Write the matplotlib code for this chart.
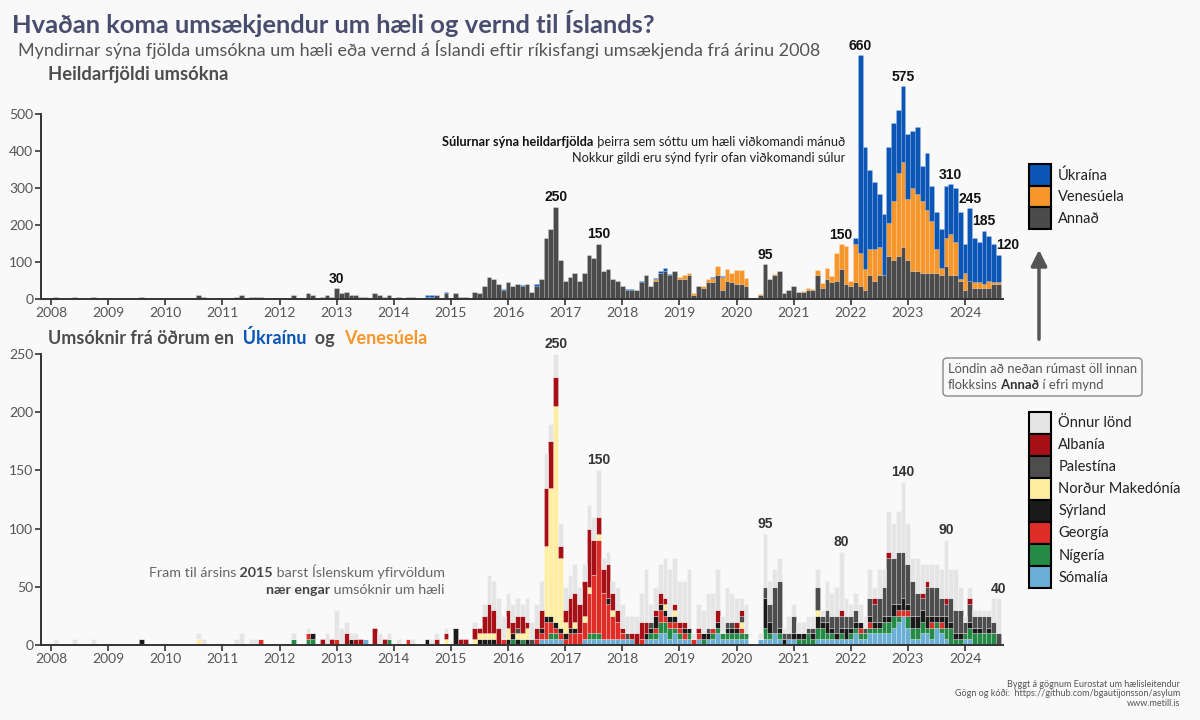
import numpy as np
import pandas as pd
import matplotlib
matplotlib.use('Agg')
import matplotlib.pyplot as plt
from matplotlib.patches import Patch, FancyBboxPatch
from matplotlib.transforms import IdentityTransform

plt.rcParams['font.family'] = ['Lato', 'DejaVu Sans']

# Mánaðarleg gögn jan 2008 - ágú 2024
months = pd.date_range('2008-01-01', '2024-08-01', freq='MS')
Z = [0] * 12

# Efri mynd
ukraina = (Z * 6
           + [0, 0, 0, 0, 0, 0, 0, 5, 5, 0, 0, 5]
           + [0, 2, 0, 0, 0, 0, 0, 0, 0, 0, 0, 3]
           + [0, 0, 0, 3, 0, 0, 5, 0, 0, 0, 0, 0]
           + Z
           + [0, 3, 2, 0, 5, 0, 0, 3, 5, 8, 3, 0]
           + [0, 0, 0, 0, 0, 0, 0, 3, 0, 2, 0, 0]
           + Z + Z
           + [0, 15, 535, 330, 215, 180, 145, 165, 205, 210, 170, 205]
           + [175, 155, 180, 95, 155, 95, 100, 105, 140, 135, 145, 180]
           + [80, 195, 120, 110, 145, 120, 105, 75])

venesuela = (Z * 10
             + [0, 0, 0, 0, 0, 0, 0, 3, 0, 0, 0, 0]
             + [5, 10, 5, 5, 0, 5, 10, 12, 25, 35, 32, 24]
             + [38, 38, 23, 0, 0, 3, 0, 0, 2, 0, 0, 0]
             + [0, 0, 2, 5, 3, 13, 12, 28, 17, 73, 69, 103]
             + [15, 105, 90, 55, 70, 85, 75, 0, 90, 160, 225, 230]
             + [165, 225, 210, 195, 170, 140, 65, 20, 75, 110, 90, 5]
             + [45, 0, 15, 15, 10, 20, 5, 5])

annad = ([0, 5, 0, 0, 0, 5, 0, 0, 0, 5, 0, 0]
         + [0, 0, 0, 0, 0, 0, 0, 5, 0, 0, 0, 0]
         + [0, 0, 0, 0, 0, 0, 0, 10, 5, 0, 0, 0]
         + [0, 0, 0, 5, 10, 0, 5, 5, 5, 0, 0, 0]
         + [0, 0, 0, 10, 0, 0, 15, 10, 0, 5, 10, 5]
         + [30, 15, 20, 10, 10, 5, 5, 0, 15, 10, 5, 10]
         + [0, 5, 0, 5, 5, 0, 0, 5, 5, 10, 0, 15]
         + [0, 15, 5, 5, 0, 20, 15, 35, 60, 55, 40, 25]
         + [45, 35, 40, 35, 40, 20, 35, 55, 165, 190, 250, 105]
         + [50, 60, 70, 50, 70, 120, 110, 150, 75, 80, 55, 50]
         + [35, 25, 25, 25, 45, 65, 35, 50, 70, 75, 65, 75]
         + [55, 55, 65, 10, 35, 30, 45, 45, 65, 25, 50, 45]
         + [40, 40, 35, 0, 0, 10, 95, 55, 65, 75, 15, 25]
         + [35, 20, 20, 25, 25, 65, 30, 55, 45, 50, 80, 40]
         + [35, 45, 35, 25, 65, 50, 65, 65, 115, 105, 115, 140]
         + [105, 75, 75, 70, 70, 70, 70, 65, 90, 65, 65, 50]
         + [25, 50, 30, 30, 30, 30, 40, 40])

# Neðri mynd (lönd innan Annað)
somalia = (Z * 5
           + [0, 0, 0, 0, 0, 0, 5, 0, 0, 0, 0, 0]
           + Z + Z
           + [0, 0, 0, 0, 0, 0, 0, 5, 5, 5, 5, 5]
           + [0, 0, 0, 0, 5, 5, 5, 5, 5, 5, 5, 5]
           + [5, 5, 5, 0, 0, 5, 5, 5, 10, 10, 5, 10]
           + [5, 5, 5, 0, 5, 0, 5, 5, 10, 5, 5, 5]
           + [5, 5, 5, 0, 0, 5, 5, 5, 10, 5, 0, 5]
           + [5, 0, 0, 0, 0, 5, 5, 5, 5, 5, 5, 5]
           + [5, 10, 5, 5, 10, 10, 10, 10, 10, 15, 20, 25]
           + [15, 5, 5, 10, 10, 5, 15, 10, 5, 0, 0, 0]
           + [5, 5, 0, 0, 0, 0, 0, 0])

nigeria = (Z * 4
           + [0, 0, 0, 5, 0, 0, 5, 5, 0, 0, 0, 0]
           + [0, 0, 0, 0, 0, 0, 0, 0, 0, 0, 0, 5]
           + Z + Z
           + [0, 5, 0, 5, 0, 0, 0, 0, 0, 5, 5, 0]
           + [0, 0, 0, 0, 0, 5, 5, 5, 0, 0, 0, 0]
           + [0, 0, 0, 0, 0, 0, 5, 5, 10, 10, 10, 5]
           + [5, 0, 5, 0, 0, 5, 0, 5, 5, 5, 5, 5]
           + [5, 5, 5, 0, 0, 0, 10, 5, 0, 5, 0, 0]
           + [0, 5, 5, 10, 5, 10, 10, 5, 5, 0, 5, 0]
           + [5, 5, 5, 5, 5, 5, 5, 10, 10, 10, 5, 0]
           + [10, 10, 10, 10, 5, 10, 5, 5, 10, 15, 5, 5]
           + [5, 10, 10, 10, 10, 10, 10, 0])

georgia = (Z * 3
           + [0, 0, 0, 0, 0, 0, 0, 0, 5, 0, 0, 0]
           + [0, 0, 0, 0, 0, 0, 5, 0, 0, 0, 0, 0]
           + [5, 0, 0, 0, 0, 0, 0, 0, 0, 0, 0, 0]
           + [0, 0, 0, 5, 0, 0, 0, 0, 0, 0, 0, 0]
           + [0, 0, 0, 0, 0, 0, 0, 0, 0, 0, 0, 5]
           + [0, 0, 0, 0, 0, 0, 5, 5, 15, 10, 5, 5]
           + [5, 10, 10, 10, 15, 35, 50, 80, 40, 30, 20, 15]
           + [5, 0, 0, 0, 5, 0, 0, 5, 10, 5, 5, 5]
           + [5, 5, 0, 5, 5, 0, 0, 5, 0, 0, 0, 0]
           + [0, 5, 0, 0, 0, 0, 0, 0, 0, 0, 0, 0]
           + Z
           + [0, 0, 5, 0, 5, 0, 0, 0, 0, 0, 5, 5]
           + [5, 0, 0, 0, 0, 5, 0, 5, 0, 0, 0, 0]
           + [0] * 8)

syrland = (Z
           + [0, 0, 0, 0, 0, 0, 0, 5, 0, 0, 0, 0]
           + Z + Z
           + [0, 0, 0, 0, 0, 0, 0, 5, 0, 0, 0, 0]
           + [0, 0, 0, 5, 0, 0, 0, 0, 0, 0, 0, 0]
           + [0, 0, 0, 0, 0, 0, 0, 5, 0, 0, 0, 0]
           + [0, 15, 0, 0, 0, 0, 5, 5, 5, 5, 0, 0]
           + [5, 5, 5, 0, 5, 0, 0, 5, 5, 5, 5, 5]
           + [5, 5, 5, 0, 0, 0, 0, 0, 0, 5, 0, 0]
           + [0, 0, 0, 0, 0, 5, 5, 10, 5, 5, 5, 5]
           + [0, 5, 5, 0, 0, 5, 5, 0, 5, 0, 5, 5]
           + [5, 0, 0, 0, 0, 0, 25, 10, 0, 5, 5, 0]
           + [5, 5, 5, 0, 5, 10, 5, 10, 5, 5, 5, 10]
           + [5, 5, 5, 0, 5, 5, 5, 5, 5, 10, 5, 10]
           + [5, 10, 10, 10, 10, 5, 5, 5, 10, 5, 5, 5]
           + [0, 5, 5, 5, 0, 5, 0, 0])

makedonia = (Z * 2
             + [0, 0, 0, 0, 0, 0, 0, 5, 0, 0, 0, 0]
             + Z * 3
             + [0, 0, 0, 0, 0, 0, 0, 0, 0, 0, 0, 5]
             + [0, 0, 0, 0, 0, 5, 5, 5, 5, 5, 0, 0]
             + [10, 0, 5, 5, 10, 0, 0, 0, 60, 110, 185, 60]
             + [10, 0, 5, 0, 5, 5, 0, 5, 0, 0, 5, 0]
             + [0, 0, 0, 0, 0, 0, 0, 0, 0, 5, 0, 5]
             + Z
             + [0, 5, 0, 0, 0, 0, 0, 0, 0, 0, 0, 0]
             + [0, 0, 0, 0, 0, 5, 0, 0, 0, 0, 0, 0]
             + Z + Z
             + [0] * 8)

palestina = (Z * 8
             + [0, 0, 5, 0, 0, 5, 0, 0, 0, 0, 0, 0]
             + Z
             + [0, 5, 0, 0, 0, 0, 5, 0, 0, 0, 0, 0]
             + [0, 0, 0, 0, 0, 0, 5, 0, 0, 0, 5, 5]
             + [0, 5, 0, 0, 0, 0, 10, 15, 40, 40, 5, 5]
             + [15, 0, 0, 5, 5, 20, 5, 10, 10, 15, 10, 10]
             + [10, 10, 0, 5, 15, 15, 20, 25, 50, 40, 45, 40]
             + [35, 30, 20, 10, 25, 25, 25, 15, 10, 20, 20, 20]
             + [10, 15, 10, 10, 15, 10, 10, 10])

albania = (Z * 4
           + [0, 0, 0, 0, 0, 0, 0, 0, 0, 5, 0, 5]
           + [0, 0, 10, 0, 5, 5, 0, 0, 15, 0, 5, 0]
           + [0, 0, 0, 0, 0, 0, 0, 0, 0, 5, 0, 5]
           + [0, 0, 5, 5, 0, 10, 5, 15, 25, 20, 15, 0]
           + [15, 10, 10, 15, 5, 0, 10, 15, 50, 40, 25, 10]
           + [10, 25, 25, 25, 30, 50, 30, 15, 20, 30, 15, 10]
           + [5, 0, 5, 10, 15, 10, 0, 5, 10, 5, 0, 5]
           + [5, 5, 0, 0, 5, 0, 0, 0, 10, 0, 0, 0]
           + [5, 5, 0, 0, 0, 0, 0, 0, 0, 0, 0, 0]
           + [0, 0, 0, 0, 0, 0, 0, 0, 0, 0, 5, 0]
           + [0, 0, 0, 0, 0, 5, 0, 0, 5, 0, 0, 0]
           + [0, 0, 0, 5, 5, 0, 0, 0, 5, 0, 0, 0]
           + [0, 5, 0, 0, 0, 0, 0, 0])

named = np.array([somalia, nigeria, georgia, syrland, makedonia, palestina, albania])
onnur = np.array(annad) - named.sum(axis=0)

# Gildi sýnd ofan við súlur
top_label_months = ['2013-01', '2016-11', '2017-08', '2020-07', '2021-11', '2022-03',
                    '2022-12', '2023-10', '2024-02', '2024-05', '2024-08']
top_label_text = ['30', '250', '150', '95', '150', '660', '575', '310', '245', '185', '120']
bot_label_months = ['2016-11', '2017-08', '2020-07', '2021-11', '2022-12', '2023-09', '2024-08']
bot_label_text = ['250', '150', '95', '80', '140', '90', '40']

c_ukr = '#0b55b6'
c_ven = '#f7962b'
c_ann = '#4b4b4b'
bot_series = [
    ('Sómalía', somalia, '#6baed6'),
    ('Nígería', nigeria, '#238b45'),
    ('Georgía', georgia, '#de2d26'),
    ('Sýrland', syrland, '#1a1a1a'),
    ('Norður Makedónía', makedonia, '#ffeda0'),
    ('Palestína', palestina, '#4d4d4d'),
    ('Albanía', albania, '#a50f15'),
    ('Önnur lönd', onnur, '#e5e5e5'),
]

W, H = 1200, 720
bg = '#f9f9f9'


def fx(px):
    return px / W


def fy(py):
    return 1 - py / H


x = months.year + (months.month - 1) / 12
bw = 1 / 12
xl = (2008 - 10 / 57.125, 2008 + 952 / 57.125)

fig = plt.figure(figsize=(12, 7.2), dpi=100, facecolor=bg)
ax1 = fig.add_axes([fx(41), fy(299), (1003 - 41) / W, (299 - 40) / H])
ax2 = fig.add_axes([fx(41), fy(645), (1003 - 41) / W, (645 - 336.5) / H])

# Efri mynd: staflaðar súlur
ann = np.array(annad)
ven = np.array(venesuela)
ukr = np.array(ukraina)
edge = dict(edgecolor=(1, 1, 1, 0.18), linewidth=0.5)
ax1.bar(x, ann, width=bw, color=c_ann, **edge)
ax1.bar(x, ven, width=bw, bottom=ann, color=c_ven, **edge)
ax1.bar(x, ukr, width=bw, bottom=ann + ven, color=c_ukr, **edge)
total = ann + ven + ukr
for m, t in zip(top_label_months, top_label_text):
    i = months.get_loc(pd.Timestamp(m))
    ha = 'left' if i == len(months) - 1 else 'center'
    xi = x[i] - bw / 2 if ha == 'left' else x[i]
    ax1.text(xi, total[i] + 6, t, ha=ha, va='bottom', fontsize=10,
             fontweight='bold', family='Liberation Sans', color='#111111')

# Neðri mynd
bottom = np.zeros(len(months))
for name, vals, col in bot_series:
    v = np.array(vals)
    ax2.bar(x, v, width=bw, bottom=bottom, color=col,
            edgecolor=(1, 1, 1, 0.35), linewidth=0.5)
    bottom = bottom + v
for m, t in zip(bot_label_months, bot_label_text):
    i = months.get_loc(pd.Timestamp(m))
    ax2.text(x[i], bottom[i] + 2.5, t, ha='center', va='bottom', fontsize=10,
             fontweight='bold', family='Liberation Sans', color='#333333')

for ax, ymax, ticks in [(ax1, 700, range(0, 501, 100)), (ax2, 265, range(0, 251, 50))]:
    ax.set_facecolor(bg)
    ax.set_xlim(*xl)
    ax.set_ylim(0, ymax)
    ax.set_yticks(list(ticks))
    ax.set_xticks(range(2008, 2025))
    ax.set_xticklabels([str(y) for y in range(2008, 2025)])
    for s in ['top', 'right']:
        ax.spines[s].set_visible(False)
    for s in ['left', 'bottom']:
        ax.spines[s].set_color('#333333')
        ax.spines[s].set_linewidth(1.4)
    ax.spines['left'].set_bounds(0, max(ticks))
    ax.tick_params(direction='out', length=4, width=1.2, color='#333333',
                   labelcolor='#555555', labelsize=10, pad=1.5)

# Skýringar
top_handles = [Patch(facecolor=c_ukr, edgecolor='black', linewidth=1.5, label='Úkraína'),
               Patch(facecolor=c_ven, edgecolor='black', linewidth=1.5, label='Venesúela'),
               Patch(facecolor=c_ann, edgecolor='black', linewidth=1.5, label='Annað')]
ax1.legend(handles=top_handles, loc='upper left', bbox_to_anchor=(fx(1029), fy(164)),
           bbox_transform=fig.transFigure, frameon=False, fontsize=10.5,
           handlelength=1.49, handleheight=1.91, labelspacing=0, handletextpad=0.5,
           borderpad=0, borderaxespad=0, labelcolor='#222222')
bot_handles = [Patch(facecolor=col, edgecolor='black', linewidth=1.5, label=name)
               for name, vals, col in bot_series[::-1]]
ax2.legend(handles=bot_handles, loc='upper left', bbox_to_anchor=(fx(1029), fy(411.5)),
           bbox_transform=fig.transFigure, frameon=False, fontsize=10.5,
           handlelength=1.5, handleheight=1.95, labelspacing=0, handletextpad=0.5,
           borderpad=0, borderaxespad=0, labelcolor='#222222')

# Titlar
fig.text(fx(12), fy(33), 'Hvaðan koma umsækjendur um hæli og vernd til Íslands?',
         fontsize=18.35, fontweight='bold', color='#484d6d', va='baseline')
fig.text(fx(18), fy(56), 'Myndirnar sýna fjölda umsókna um hæli eða vernd á Íslandi '
         'eftir ríkisfangi umsækjenda frá árinu 2008', fontsize=13, color='#555555',
         va='baseline')
fig.text(fx(48), fy(80), 'Heildarfjöldi umsókna', fontsize=13.2, fontweight='bold',
         color='#4d4d4d', va='baseline')

t = fig.text(fx(48), fy(344), 'Umsóknir frá öðrum en', fontsize=13, fontweight='bold',
             color='#4d4d4d', va='baseline')
for s, col in [('  Úkraínu', c_ukr), ('  og  ', '#4d4d4d'), ('Venesúela', c_ven)]:
    t = ax2.annotate(s, xy=(1, 0), xycoords=t, ha='left', va='bottom', fontsize=13,
                     fontweight='bold', color=col)


def right_chain(xp, yp, parts, size, ax):
    # parts: (texti, feitletrað, litur), lesið frá vinstri til hægri
    t = None
    for s, bold, col in parts[::-1]:
        kw = dict(fontsize=size, fontweight='bold' if bold else 'normal', color=col)
        if t is None:
            t = fig.text(fx(xp), fy(yp), s, ha='right', va='baseline', **kw)
        else:
            t = ax.annotate(s, xy=(0, 0), xycoords=t, ha='right', va='bottom', **kw)


right_chain(845, 146, [('Súlurnar sýna heildarfjölda', True, '#111111'),
                       (' þeirra sem sóttu um hæli viðkomandi mánuð', False, '#222222')], 9.2, ax1)
right_chain(845, 162, [('Nokkur gildi eru sýnd fyrir ofan viðkomandi súlur', False, '#222222')],
            9.2, ax1)
right_chain(445, 577, [('Fram til ársins', False, '#666666'), (' 2015', True, '#444444'),
                       (' barst Íslenskum yfirvöldum', False, '#666666')], 10.25, ax2)
right_chain(445, 594, [('nær engar', True, '#444444'), (' umsóknir um hæli', False, '#666666')],
            10.25, ax2)

# Kassi og ör
box = FancyBboxPatch((943, H - 396), 199, 38, boxstyle='round,pad=0,rounding_size=4',
                     transform=IdentityTransform(), facecolor=bg, edgecolor='#888888',
                     linewidth=1, clip_on=False, zorder=0.5)
ax2.add_patch(box)
fig.text(fx(948), fy(373), 'Löndin að neðan rúmast öll innan', fontsize=9.4,
         color='#555555', va='baseline')
t = fig.text(fx(948), fy(389), 'flokksins', fontsize=9.4, color='#555555', va='baseline')
t = ax2.annotate(' Annað', xy=(1, 0), xycoords=t, ha='left', va='bottom', fontsize=9.4,
                 fontweight='bold', color='#333333')
ax2.annotate(' í efri mynd', xy=(1, 0), xycoords=t, ha='left', va='bottom', fontsize=9.4,
             color='#555555')
ax2.annotate('', xy=(1039, H - 247), xytext=(1039, H - 342), xycoords='figure pixels',
             textcoords='figure pixels',
             arrowprops=dict(arrowstyle='-|>', color='#555555', lw=2.5, mutation_scale=24))

# Heimildir
for k, line in enumerate(['Byggt á gögnum Eurostat um hælisleitendur',
                          'Gögn og kóði:  https://github.com/bgautijonsson/asylum',
                          'www.metill.is']):
    fig.text(fx(1180), fy(687 + 9.5 * k), line, fontsize=6.5, color='#555555',
             ha='right', va='baseline')

fig.savefig('out.png', dpi=100, facecolor=bg)
